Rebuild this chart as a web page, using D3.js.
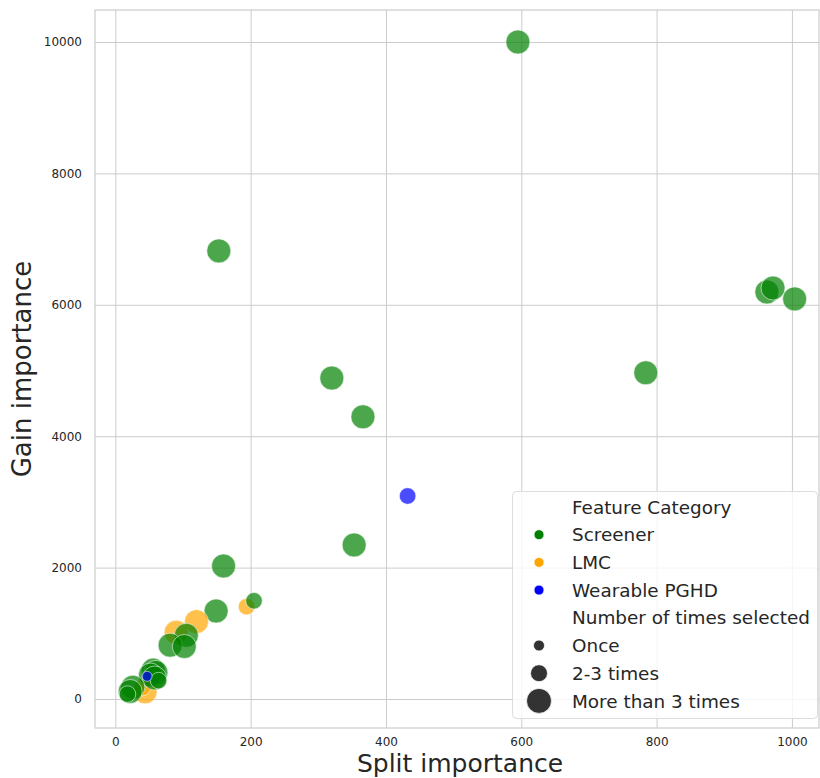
<!DOCTYPE html>
<html>
<head>
<meta charset="utf-8">
<script src="https://cdn.jsdelivr.net/npm/d3@7"></script>
<style>
  html, body { margin: 0; padding: 0; background: #fff; }
  svg { display: block; font-family: "DejaVu Sans", sans-serif; }
</style>
</head>
<body>
<svg id="chart" width="820" height="778"></svg>
<script>
// Feature importance: split count vs. gain, coloured by feature category,
// sized by how often the feature was selected.
const splitImportance = [
  595, 153, 963, 972, 1004, 784, 320, 366, 353, 160,
  149, 90, 120, 194, 205, 105, 81, 102,
  44, 40, 56, 60, 52, 58, 64, 26, 22, 18, 47, 432
];
const gainImportance = [
  10000, 6820, 6195, 6255, 6090, 4965, 4885, 4295, 2345, 2025,
  1340, 1015, 1178, 1405, 1495, 970, 820, 800,
  110, 175, 440, 405, 365, 320, 280, 180, 115, 75, 345, 3090
];
const featureCategory = [
  "Screener", "Screener", "Screener", "Screener", "Screener", "Screener", "Screener", "Screener", "Screener", "Screener",
  "Screener", "LMC", "LMC", "LMC", "Screener", "Screener", "Screener", "Screener",
  "LMC", "LMC", "Screener", "Screener", "Screener", "Screener", "Screener", "Screener", "Screener", "Screener", "Wearable PGHD", "Wearable PGHD"
];
const timesSelected = [
  "More than 3 times", "More than 3 times", "More than 3 times", "More than 3 times", "More than 3 times", "More than 3 times", "More than 3 times", "More than 3 times", "More than 3 times", "More than 3 times",
  "More than 3 times", "More than 3 times", "More than 3 times", "2-3 times", "2-3 times", "More than 3 times", "More than 3 times", "More than 3 times",
  "More than 3 times", "2-3 times", "More than 3 times", "More than 3 times", "More than 3 times", "More than 3 times", "2-3 times", "More than 3 times", "More than 3 times", "2-3 times", "Once", "2-3 times"
];

const categories = ["Screener", "LMC", "Wearable PGHD"];
const categoryColors = ["green", "orange", "blue"];
const sizeLevels = ["Once", "2-3 times", "More than 3 times"];
const sizeRadii = [5, 8.3, 12];
const xTicks = [0, 200, 400, 600, 800, 1000];
const yTicks = [0, 2000, 4000, 6000, 8000, 10000];

const points = splitImportance.map((s, i) => ({
  split: s, gain: gainImportance[i], cat: featureCategory[i], times: timesSelected[i]
}));

const svg = d3.select("#chart");
const plot = { left: 95, top: 10, right: 819, bottom: 728 };

const x = d3.scaleLinear().domain([-30, 1040]).range([plot.left, plot.right]);
const y = d3.scaleLinear().domain([-441, 10487]).range([plot.bottom, plot.top]);
const color = d3.scaleOrdinal().domain(categories).range(categoryColors);
const radius = d3.scaleOrdinal().domain(sizeLevels).range(sizeRadii);

const gridColor = "#cccccc";
const textColor = "#262626";

// grid lines
svg.append("g")
  .attr("transform", `translate(0,${plot.bottom})`)
  .call(d3.axisBottom(x).tickValues(xTicks).tickSize(-(plot.bottom - plot.top)).tickFormat(""))
  .call(g => g.select(".domain").remove())
  .call(g => g.selectAll("line").attr("stroke", gridColor).attr("stroke-width", 1));
svg.append("g")
  .attr("transform", `translate(${plot.left},0)`)
  .call(d3.axisLeft(y).tickValues(yTicks).tickSize(-(plot.right - plot.left)).tickFormat(""))
  .call(g => g.select(".domain").remove())
  .call(g => g.selectAll("line").attr("stroke", gridColor).attr("stroke-width", 1));

// frame
svg.append("rect")
  .attr("x", plot.left).attr("y", plot.top)
  .attr("width", plot.right - plot.left).attr("height", plot.bottom - plot.top)
  .attr("fill", "none").attr("stroke", gridColor).attr("stroke-width", 1.2);

// tick labels
const xAxis = svg.append("g")
  .attr("transform", `translate(0,${plot.bottom})`)
  .call(d3.axisBottom(x).tickValues(xTicks).tickSize(0).tickPadding(9).tickFormat(d3.format("d")));
xAxis.select(".domain").remove();
xAxis.selectAll("text").attr("fill", textColor).style("font-size", "12px").style("font-family", "DejaVu Sans");

const yAxis = svg.append("g")
  .attr("transform", `translate(${plot.left},0)`)
  .call(d3.axisLeft(y).tickValues(yTicks).tickSize(0).tickPadding(13).tickFormat(d3.format("d")));
yAxis.select(".domain").remove();
yAxis.selectAll("text").attr("fill", textColor).style("font-size", "12px").style("font-family", "DejaVu Sans");

// axis titles
svg.append("text")
  .attr("x", (plot.left + plot.right) / 2 + 3).attr("y", 772)
  .attr("text-anchor", "middle").attr("fill", textColor)
  .style("font-size", "25px")
  .text("Split importance");
svg.append("text")
  .attr("transform", `translate(31,${(plot.top + plot.bottom) / 2}) rotate(-90)`)
  .attr("text-anchor", "middle").attr("fill", textColor)
  .style("font-size", "26px")
  .text("Gain importance");

// points
svg.append("g")
  .selectAll("circle")
  .data(points)
  .join("circle")
  .attr("cx", d => x(d.split))
  .attr("cy", d => y(d.gain))
  .attr("r", d => radius(d.times))
  .attr("fill", d => color(d.cat))
  .attr("fill-opacity", 0.7)
  .attr("stroke", "#ffffff")
  .attr("stroke-opacity", 0.7)
  .attr("stroke-width", 0.8);

// legend
const legend = svg.append("g");
legend.append("rect")
  .attr("x", 512.5).attr("y", 491.5).attr("width", 305).attr("height", 227)
  .attr("rx", 4).attr("ry", 4)
  .attr("fill", "#ffffff").attr("fill-opacity", 0.8)
  .attr("stroke", "#dddddd").attr("stroke-width", 1);

const rowY0 = 507, rowStep = 27.7, markX = 539, textX = 572;
const rows = [
  { label: "Feature Category" },
  ...categories.map((c, i) => ({ label: c, fill: categoryColors[i], r: 5 })),
  { label: "Number of times selected" },
  ...sizeLevels.map((s, i) => ({ label: s, fill: "#333333", r: [5.5, 8.5, 12.5][i] }))
];
rows.forEach((row, i) => {
  const cy = rowY0 + i * rowStep;
  if (row.fill) {
    legend.append("circle")
      .attr("cx", markX).attr("cy", cy).attr("r", row.r)
      .attr("fill", row.fill).attr("stroke", "#ffffff").attr("stroke-width", 0.8);
  }
  legend.append("text")
    .attr("x", textX).attr("y", cy).attr("dy", "0.36em")
    .attr("fill", textColor)
    .style("font-size", "18.4px")
    .text(row.label);
});
</script>
</body>
</html>
